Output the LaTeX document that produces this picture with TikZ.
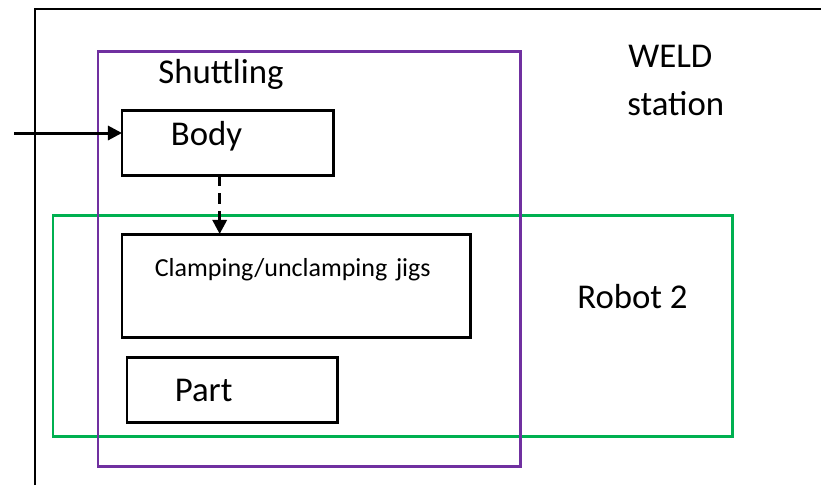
\documentclass[tikz,border=0pt]{standalone}
\usepackage{fontspec}
\setmainfont{Carlito}
\usetikzlibrary{arrows.meta,positioning}
\definecolor{shuttlepurple}{HTML}{7030A0}
\definecolor{robotgreen}{HTML}{00B050}
\tikzset{ lbl/.style = { inner sep = 0pt % free label
        , anchor = base west
        , font = \fontsize{19.8}{24}\selectfont
        }
        , box/.style = { rectangle % black box
        , draw = black
        , line width = 1.7pt
        , outer sep = 0pt
        , anchor = north west
        , align = left
        , inner ysep = 0pt
        , font = \fontsize{19.8}{24}\selectfont
        }
        }
\begin{document}
\begin{tikzpicture}[x=0.02cm, y=-0.02cm,
        frame_style/.style={draw=black, line width=1.3pt},
        shuttle_style/.style={draw=shuttlepurple, line width=1.7pt},
        robot_style/.style={draw=robotgreen, line width=1.7pt},
        edge_style/.style={draw=black, line width=1.7pt, -{Triangle[length=8pt,width=8pt]}},
        dashed_edge_style/.style={edge_style, dash pattern=on 6pt off 4pt}]
        \useasboundingbox (0,0) rectangle (821,485);
        % station, robot and shuttle frames
        \draw [frame_style] (35,485) -- (35,9) -- (821,9);
        \draw [robot_style] (53,215) rectangle (732,436);
        \draw [shuttle_style] (98,51) rectangle (520,466);

        \node [lbl] (shuttling) at (158,83) {Shuttling};
        \node [lbl] (weld) at (628,67) {WELD};
        \node [lbl] (station) at (627,115) {station};
        \node [lbl] (robot) at (577,308) {Robot 2};

        \node [box, inner xsep=27.8pt, text width=64.6pt, text height=20.4pt, text depth=17pt] (body) at (122,110) {Body};
        \node [box, inner xsep=18.7pt, text width=161pt, text height=24.4pt, text depth=34.6pt, font=\fontsize{14.8}{18}\selectfont] (jigs) at (122,234) {Clamping/unclamping jigs};
        \node [box, inner xsep=27.2pt, text width=65.2pt, text height=25.5pt, text depth=11.9pt] (part) at (127,357) {Part};

        \coordinate (feed) at (14,133);
        \draw [edge_style] (feed) -- (feed -| body.west);
        \draw [dashed_edge_style] ([xshift=-4.5pt]body.south) -- ([xshift=-4.5pt]body.south |- jigs.north);
\end{tikzpicture}
\end{document}
